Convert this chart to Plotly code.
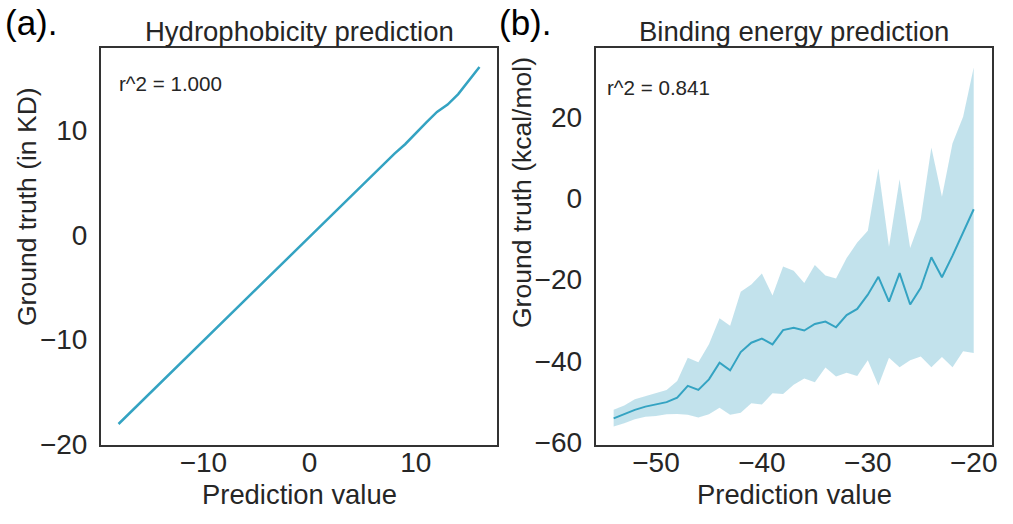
import plotly.graph_objects as go

# Panel (a): hydrophobicity
hyd_pred = [-18, -17, -16, -15, -14, -13, -12, -11, -10, -9, -8, -7, -6, -5, -4, -3, -2, -1,
            0, 1, 2, 3, 4, 5, 6, 7, 8, 9, 10, 11, 12, 13, 14, 15, 16]
hyd_true = [-18.1, -17.1, -16.1, -15.2, -14.2, -13.2, -12.2, -11.2, -10.2, -9.2, -8.2, -7.2,
            -6.2, -5.2, -4.2, -3.2, -2.2, -1.2, -0.2, 0.8, 1.8, 2.8, 3.8, 4.8, 5.8, 6.8, 7.8,
            8.7, 9.8, 10.8, 11.8, 12.5, 13.5, 14.8, 16.1]

# Panel (b): binding energy
be_pred = [-54, -53, -52, -51, -50, -49, -48, -47, -46, -45, -44, -43, -42, -41, -40, -39, -38,
           -37, -36, -35, -34, -33, -32, -31, -30, -29, -28, -27, -26, -25, -24, -23, -22, -21, -20]
be_mean = [-54.1, -53.1, -52.0, -51.2, -50.7, -50.1, -49.0, -46.1, -47.1, -44.5, -40.4, -42.3,
           -37.8, -35.5, -34.5, -35.9, -32.4, -31.8, -32.5, -30.9, -30.3, -31.7, -28.7, -27.2,
           -23.7, -19.3, -25.4, -18.4, -26.1, -22.0, -14.5, -19.4, -14.1, -8.4, -2.7]
be_upper = [-52.0, -50.9, -49.4, -48.6, -47.8, -47.1, -44.9, -39.2, -40.3, -35.9, -29.5, -31.3,
            -23.0, -21.2, -18.5, -23.9, -16.8, -17.8, -20.8, -16.4, -19.0, -19.7, -14.7, -10.9,
            -8.0, 7.3, -11.9, 4.7, -12.2, -5.1, 12.5, 0.4, 13.5, 20.0, 32.1]
be_lower = [-56.1, -55.3, -54.3, -53.7, -53.5, -53.1, -53.0, -53.2, -53.9, -53.1, -51.5, -53.2,
            -52.7, -50.4, -50.7, -47.9, -48.1, -45.8, -44.3, -45.2, -41.6, -43.8, -42.9, -43.7,
            -39.8, -46.0, -39.2, -41.5, -39.8, -38.9, -41.5, -39.0, -41.5, -37.6, -38.0]

LINE = "#34a3c2"
FILL = "rgba(173,216,230,0.75)"
TXT = "#262626"
FONT = "Liberation Sans, Arial, sans-serif"

fig = go.Figure()
fig.add_trace(go.Scatter(x=hyd_pred, y=hyd_true, mode="lines",
                         line=dict(color=LINE, width=2.5), xaxis="x", yaxis="y",
                         showlegend=False))
fig.add_trace(go.Scatter(x=be_pred, y=be_lower, mode="lines", line=dict(width=0, color=FILL),
                         xaxis="x2", yaxis="y2", showlegend=False, hoverinfo="skip"))
fig.add_trace(go.Scatter(x=be_pred, y=be_upper, mode="lines", line=dict(width=0, color=FILL),
                         fill="tonexty", fillcolor=FILL,
                         xaxis="x2", yaxis="y2", showlegend=False, hoverinfo="skip"))
fig.add_trace(go.Scatter(x=be_pred, y=be_mean, mode="lines",
                         line=dict(color=LINE, width=2), xaxis="x2", yaxis="y2",
                         showlegend=False))

base = dict(showgrid=False, zeroline=False, showline=True, mirror=True, automargin=False,
            linecolor="#333333", linewidth=2,
            tickfont=dict(size=28, color=TXT, family=FONT))
xax = dict(base, ticks="", ticklabelstandoff=-8)
yax = dict(base, ticks="outside", ticklen=6, tickcolor="rgba(0,0,0,0)")

ydom = [0.151, 0.909]
fig.update_layout(
    template="none",
    width=1013, height=524, autosize=False,
    margin=dict(l=0, r=0, t=0, b=0, pad=0),
    paper_bgcolor="white", plot_bgcolor="white",
    font=dict(family=FONT, color=TXT),
    xaxis=dict(domain=[0.0997, 0.4906], range=[-19.65, 17.65], tickvals=[-10, 0, 10],
               ticktext=["\u221210", "0", "10"], anchor="y", **xax),
    yaxis=dict(domain=ydom, range=[-20.1, 17.95], tickvals=[-20, -10, 0, 10],
               ticktext=["\u221220", "\u221210", "0", "10"], anchor="x", **yax),
    xaxis2=dict(domain=[0.588, 0.9793], range=[-55.7, -18.27], tickvals=[-50, -40, -30, -20],
                ticktext=["\u221250", "\u221240", "\u221230", "\u221220"], anchor="y2", **xax),
    yaxis2=dict(domain=ydom, range=[-60.6, 37.0], tickvals=[-60, -40, -20, 0, 20],
                ticktext=["\u221260", "\u221240", "\u221220", "0", "20"], anchor="x2", **yax),
)

ann = [
    dict(text="Hydrophobicity prediction", x=299, y=31, size=27.5, color=TXT),
    dict(text="Binding energy prediction", x=794, y=31, size=27.5, color=TXT),
    dict(text="(a).", x=32, y=22, size=35, color="black"),
    dict(text="(b).", x=525, y=22, size=35, color="black"),
    dict(text="Prediction value", x=299, y=494, size=27.4, color=TXT),
    dict(text="Prediction value", x=794, y=494, size=27.4, color=TXT),
]
for a in ann:
    fig.add_annotation(text=a["text"], x=a["x"] / 1013, y=1 - a["y"] / 524,
                       xref="paper", yref="paper", showarrow=False,
                       xanchor="center", yanchor="middle",
                       font=dict(size=a["size"], color=a["color"], family=FONT))

fig.add_annotation(text="Ground truth (in KD)", x=27 / 1013, y=1 - 207 / 524,
                   xref="paper", yref="paper", showarrow=False, textangle=-90,
                   xanchor="center", yanchor="middle", font=dict(size=26.5, color=TXT, family=FONT))
fig.add_annotation(text="Ground truth (kcal/mol)", x=522 / 1013, y=1 - 193 / 524,
                   xref="paper", yref="paper", showarrow=False, textangle=-90,
                   xanchor="center", yanchor="middle", font=dict(size=26.5, color=TXT, family=FONT))

fig.add_annotation(text="r^2 = 1.000", x=-18.1, y=14.5, xref="x", yref="y",
                   showarrow=False, xanchor="left", yanchor="middle",
                   font=dict(size=20.6, color=TXT, family=FONT))
fig.add_annotation(text="r^2 = 0.841", x=-54.8, y=27.2, xref="x2", yref="y2",
                   showarrow=False, xanchor="left", yanchor="middle",
                   font=dict(size=20.6, color=TXT, family=FONT))

fig.write_html("out.html",
               config={"displayModeBar": False, "responsive": False},
               post_script="document.body.style.margin='0';document.body.style.overflow='hidden';")
